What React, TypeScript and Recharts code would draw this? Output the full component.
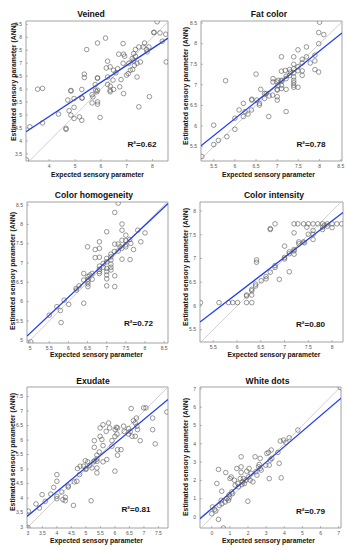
import React from 'react';
import { ComposedChart, Scatter, XAxis, YAxis, ReferenceLine, ReferenceArea } from 'recharts';

type P = [number, number];

const titles = ['Veined', 'Fat color', 'Color homogeneity', 'Color intensity', 'Exudate', 'White dots'];
const r2Labels = ['R²=0.62', 'R²=0.78', 'R²=0.72', 'R²=0.80', 'R²=0.81', 'R²=0.79'];
const xLabel = 'Expected sensory parameter';
const yLabel = 'Estimated sensory parameter (ANN)';

const veined: P[] = [
  [3.12, 3.27], [3.25, 4.55], [3.55, 6.0], [3.74, 6.03], [3.74, 4.7], [4.36, 5.04], [4.65, 4.49], [4.65, 4.45],
  [4.72, 5.58], [4.84, 5.93], [4.84, 5.95], [4.77, 5.17], [4.84, 5.0], [4.96, 5.3], [4.96, 5.64], [4.96, 4.87],
  [5.17, 4.93], [5.26, 4.8], [5.26, 5.99], [5.27, 5.65], [5.27, 5.67], [5.36, 6.58], [5.36, 6.45], [5.45, 7.53],
  [5.66, 5.47], [5.66, 5.79], [5.69, 5.7], [5.79, 5.96], [5.84, 5.9], [5.87, 7.78], [5.87, 6.44], [5.87, 6.42],
  [5.87, 5.96], [5.87, 5.51], [5.87, 5.42], [5.97, 4.91], [5.78, 6.18], [6.18, 7.97], [6.26, 7.08], [6.21, 6.82],
  [6.26, 6.47], [6.26, 6.18], [6.36, 6.86], [6.36, 6.12], [6.36, 5.96], [6.36, 5.9], [6.49, 6.73], [6.49, 5.99],
  [6.47, 6.35], [6.58, 6.63], [6.65, 6.79], [6.69, 7.35], [6.73, 6.09], [6.78, 6.37], [6.86, 7.0], [6.86, 7.76],
  [6.88, 7.35], [6.88, 5.83], [6.92, 7.27], [6.99, 6.54], [7.06, 6.6], [7.08, 7.0], [7.14, 6.73], [7.21, 7.18],
  [7.23, 6.76], [7.27, 7.37], [7.27, 7.09], [7.3, 6.92], [7.34, 7.53], [7.34, 7.27], [7.4, 7.0], [7.4, 6.47],
  [7.47, 5.32], [7.47, 7.63], [7.53, 7.05], [7.64, 7.63], [7.69, 7.78], [7.77, 7.53], [7.79, 7.44], [7.86, 7.63],
  [7.88, 5.71], [8.05, 8.18], [8.06, 8.2], [8.18, 8.6], [8.29, 8.17], [8.38, 7.85], [8.51, 8.12], [8.53, 7.05],
];

const fatColor: P[] = [
  [5.22, 5.26], [5.5, 6.02], [5.5, 5.55], [5.61, 5.65], [5.78, 7.1], [5.81, 5.74], [6.0, 6.19], [6.0, 5.92],
  [6.1, 6.39], [6.2, 6.55], [6.2, 6.23], [6.24, 6.35], [6.31, 6.29], [6.39, 6.39], [6.4, 6.63], [6.4, 6.65],
  [6.5, 7.26], [6.52, 6.63], [6.58, 6.55], [6.58, 6.51], [6.61, 6.89], [6.7, 6.79], [6.7, 6.67], [6.74, 6.79],
  [6.8, 6.23], [6.81, 6.73], [6.89, 6.75], [6.9, 7.15], [6.9, 7.07], [6.99, 7.07], [7.0, 6.89], [7.0, 6.87],
  [7.0, 6.63], [7.0, 6.71], [7.02, 6.99], [7.02, 7.11], [7.1, 7.68], [7.1, 7.33], [7.1, 7.11], [7.1, 6.99],
  [7.1, 6.91], [7.11, 7.09], [7.19, 7.35], [7.21, 7.21], [7.21, 7.15], [7.21, 6.89], [7.21, 6.35], [7.29, 7.37],
  [7.29, 7.23], [7.31, 7.31], [7.39, 7.68], [7.39, 7.5], [7.39, 7.39], [7.39, 7.29], [7.39, 7.19], [7.39, 7.11],
  [7.39, 7.05], [7.39, 6.99], [7.39, 6.94], [7.49, 7.85], [7.49, 7.44], [7.49, 7.34], [7.49, 6.94], [7.59, 7.62],
  [7.59, 7.53], [7.59, 7.34], [7.59, 7.23], [7.69, 7.92], [7.69, 7.68], [7.78, 7.53], [7.89, 7.72], [7.89, 7.58],
  [7.89, 7.37], [7.98, 7.31], [7.98, 8.0], [7.98, 8.27], [8.1, 8.22], [8.0, 8.52],
];

const colorHomogeneity: P[] = [
  [5.02, 4.96], [5.5, 5.65], [5.7, 5.87], [5.79, 5.77], [5.81, 5.46], [5.89, 6.04], [6.01, 5.93], [6.2, 6.34],
  [6.21, 6.3], [6.28, 6.41], [6.4, 5.96], [6.4, 6.56], [6.4, 6.73], [6.5, 7.42], [6.51, 6.65], [6.51, 6.58],
  [6.51, 6.52], [6.51, 6.46], [6.51, 6.39], [6.56, 6.69], [6.62, 6.73], [6.62, 6.58], [6.7, 7.35], [6.7, 7.14],
  [6.81, 7.55], [6.81, 7.38], [6.81, 7.15], [6.81, 6.92], [6.81, 6.84], [6.81, 6.78], [6.81, 6.73], [6.91, 6.99],
  [6.91, 6.89], [7.0, 7.81], [7.0, 7.12], [7.0, 7.03], [7.0, 6.86], [7.0, 6.78], [7.0, 6.69], [7.0, 6.59],
  [7.0, 6.41], [7.11, 7.23], [7.11, 7.16], [7.11, 7.08], [7.11, 6.97], [7.11, 6.89], [7.11, 6.82], [7.21, 8.31],
  [7.21, 7.49], [7.21, 6.67], [7.21, 6.39], [7.3, 8.55], [7.3, 7.49], [7.3, 7.31], [7.35, 7.42], [7.39, 7.38],
  [7.4, 8.01], [7.4, 7.85], [7.4, 7.59], [7.4, 7.1], [7.5, 7.58], [7.5, 7.47], [7.5, 7.42], [7.6, 7.61],
  [7.61, 7.09], [7.63, 7.51], [7.7, 7.35], [7.81, 7.85], [7.89, 7.55], [8.0, 7.78], [7.5, 7.72], [7.2, 7.3],
];

const colorIntensity: P[] = [
  [5.23, 6.07], [5.62, 6.07], [5.82, 6.07], [5.91, 6.07], [6.01, 6.07], [6.2, 6.07], [6.31, 6.07], [6.2, 6.23],
  [6.2, 6.21], [6.31, 6.23], [6.31, 6.32], [6.31, 6.35], [6.39, 6.42], [6.39, 6.46], [6.41, 6.97], [6.41, 6.92],
  [6.51, 6.53], [6.61, 6.57], [6.61, 6.62], [6.7, 6.71], [6.7, 7.63], [6.7, 7.61], [6.8, 7.73], [6.8, 6.81],
  [6.8, 6.85], [6.89, 6.56], [7.0, 7.02], [7.0, 6.99], [7.0, 7.26], [7.1, 7.14], [7.1, 7.1], [7.1, 6.72],
  [7.2, 7.73], [7.2, 7.54], [7.2, 7.19], [7.2, 7.09], [7.28, 7.73], [7.3, 7.31], [7.3, 7.35], [7.4, 7.35],
  [7.4, 7.73], [7.47, 7.66], [7.5, 7.73], [7.5, 7.51], [7.6, 7.73], [7.6, 7.59], [7.6, 7.51], [7.6, 7.4],
  [7.7, 7.73], [7.8, 7.73], [7.8, 7.66], [7.8, 7.61], [7.84, 7.7], [7.9, 7.73], [7.9, 7.68], [8.0, 7.73],
  [8.0, 7.65], [8.1, 7.73], [8.2, 7.73], [7.2, 7.16], [7.42, 7.33],
];

const exudate: P[] = [
  [3.0, 2.99], [3.02, 3.55], [3.28, 3.8], [3.4, 3.66], [3.49, 4.12], [3.6, 3.89], [3.79, 4.14], [3.89, 4.37],
  [4.0, 4.81], [4.0, 4.58], [4.0, 4.06], [4.0, 3.98], [4.17, 4.21], [4.21, 3.95], [4.29, 4.03], [4.29, 3.91],
  [4.39, 4.42], [4.39, 4.38], [4.57, 3.75], [4.6, 4.56], [4.69, 4.58], [4.71, 5.02], [4.78, 4.81], [4.8, 5.1],
  [4.92, 5.1], [4.98, 5.29], [5.0, 5.02], [5.0, 4.99], [5.06, 5.25], [5.13, 5.13], [5.18, 3.91], [5.21, 5.04],
  [5.26, 5.25], [5.29, 5.98], [5.29, 5.75], [5.3, 5.29], [5.38, 5.48], [5.38, 5.35], [5.38, 5.27], [5.38, 5.04],
  [5.38, 4.87], [5.46, 5.59], [5.49, 6.42], [5.49, 6.13], [5.55, 6.02], [5.59, 6.53], [5.59, 5.81], [5.59, 5.25],
  [5.7, 6.3], [5.72, 5.33], [5.78, 6.59], [5.82, 6.42], [5.9, 5.98], [5.9, 5.79], [6.0, 6.13], [6.0, 4.93],
  [6.01, 6.36], [6.05, 6.44], [6.07, 6.21], [6.09, 5.67], [6.09, 5.48], [6.09, 6.42], [6.21, 5.67], [6.3, 6.48],
  [6.32, 6.3], [6.47, 6.4], [6.47, 6.21], [6.53, 6.3], [6.56, 7.09], [6.59, 6.13], [6.64, 6.67], [6.7, 6.59],
  [6.7, 6.13], [6.74, 6.76], [6.76, 6.48], [6.78, 6.36], [6.87, 5.98], [6.99, 7.11], [7.07, 7.11], [7.3, 6.76],
  [7.3, 6.36], [7.39, 5.87], [7.79, 6.97],
];

const whiteDots: P[] = [
  [0.0, 0.18], [0.04, 0.55], [0.15, 0.42], [0.22, 0.33], [0.28, 1.83], [0.37, 2.6], [0.37, -0.13], [0.41, 0.64],
  [0.52, 0.91], [0.55, 1.41], [0.55, 0.73], [0.64, -0.6], [0.74, 0.82], [0.77, 2.43], [0.83, 1.01], [0.92, 0.91],
  [0.96, 1.22], [0.96, 1.04], [1.01, 2.1], [1.07, 2.19], [1.1, 1.37], [1.14, 1.28], [1.25, 2.01], [1.29, 1.74],
  [1.38, 2.65], [1.44, 1.83], [1.47, 1.65], [1.57, 2.1], [1.62, 3.29], [1.62, 2.74], [1.62, 2.43], [1.66, 1.77],
  [1.69, 1.92], [1.75, 2.1], [1.8, 1.83], [1.88, 2.01], [1.93, 2.5], [1.99, 0.86], [2.03, 2.19], [2.06, 2.65],
  [2.12, 2.01], [2.17, 2.38], [2.27, 1.92], [2.39, 3.29], [2.43, 2.47], [2.49, 2.29], [2.58, 2.74], [2.62, 2.87],
  [2.67, 3.2], [2.67, 2.65], [2.73, 2.56], [2.98, 2.83], [3.04, 3.47], [3.13, 3.53], [3.17, 2.83], [3.17, 2.1],
  [3.22, 3.11], [3.28, 3.66], [3.31, 3.2], [3.65, 3.53], [3.72, 2.93], [3.78, 4.15], [3.83, 2.14], [3.96, 4.2],
  [4.09, 4.08], [4.27, 4.33], [4.75, 4.75], [7.09, 7.07],
];

const seriesPoints: P[][] = [veined, fatColor, colorHomogeneity, colorIntensity, exudate, whiteDots];

const fitLines: [P, P][] = [
  [[3.1, 4.36], [8.6, 7.97]],
  [[5.2, 5.52], [8.53, 8.26]],
  [[4.92, 5.11], [8.6, 8.54]],
  [[5.22, 5.66], [8.23, 7.97]],
  [[2.97, 3.37], [7.83, 7.4]],
  [[-0.65, -0.09], [7.13, 6.49]],
];

const xDomains: P[] = [[3.1, 8.6], [5.2, 8.53], [4.92, 8.6], [5.22, 8.23], [2.97, 7.83], [-0.65, 7.13]];
const yDomains: P[] = [[3.23, 8.63], [5.15, 8.55], [4.93, 8.58], [5.24, 8.19], [2.97, 7.83], [-0.6, 7.1]];

const xTicks: number[][] = [
  [4, 5, 6, 7, 8],
  [5.5, 6, 6.5, 7, 7.5, 8, 8.5],
  [5, 5.5, 6, 6.5, 7, 7.5, 8, 8.5],
  [5.5, 6, 6.5, 7, 7.5, 8],
  [3, 3.5, 4, 4.5, 5, 5.5, 6, 6.5, 7, 7.5],
  [0, 1, 2, 3, 4, 5, 6, 7],
];
const yTicks: number[][] = [
  [3.5, 4, 4.5, 5, 5.5, 6, 6.5, 7, 7.5, 8, 8.5],
  [5.5, 6, 6.5, 7, 7.5, 8, 8.5],
  [5, 5.5, 6, 6.5, 7, 7.5, 8, 8.5],
  [5.5, 6, 6.5, 7, 7.5, 8],
  [3, 3.5, 4, 4.5, 5, 5.5, 6, 6.5, 7, 7.5],
  [0, 1, 2, 3, 4, 5, 6, 7],
];

// layout: plot box [left, top, width, height], and text centres
const layout = [
  { plot: [26, 21, 142, 140], title: [91, 13.5], xl: [97.5, 174.5], yl: [14, 82], r2: [142, 145] },
  { plot: [201, 21, 141, 140], title: [269, 13.5], xl: [268.5, 174.5], yl: [186, 86], r2: [311, 145] },
  { plot: [27, 202, 141, 141], title: [94, 195], xl: [96.5, 355], yl: [13, 271], r2: [138.5, 324] },
  { plot: [200, 202, 143, 140], title: [274, 195], xl: [274, 355], yl: [185.5, 267], r2: [310.5, 325] },
  { plot: [27, 387, 141, 141], title: [93, 381], xl: [96.5, 540.5], yl: [13, 452], r2: [136, 510] },
  { plot: [200, 387, 141, 141], title: [267.5, 381], xl: [268.5, 541], yl: [186, 457], r2: [310.5, 512] },
];

const FONT = "'Liberation Sans', Arial, Helvetica, sans-serif";
const ML = 22;
const MT = 4;
const MR = 4;
const MB = 11;
const FRAME = '#8a8a8a';

const Circle = (props: any) => {
  const { cx, cy } = props;
  if (cx == null || cy == null) return null;
  return <circle cx={cx} cy={cy} r={2.3} fill="none" stroke="#555" strokeWidth={0.6} />;
};

const centered = (x: number, y: number, extra: React.CSSProperties = {}): React.CSSProperties => ({
  position: 'absolute',
  left: x,
  top: y,
  transform: 'translate(-50%, -50%)',
  whiteSpace: 'nowrap',
  lineHeight: 1,
  fontFamily: FONT,
  fontWeight: 'bold',
  color: '#111',
  ...extra,
});

function Panel({ i }: { i: number }) {
  const L = layout[i];
  const [pl, pt, pw, ph] = L.plot;
  const xd = xDomains[i];
  const yd = yDomains[i];
  const lo = Math.min(xd[0], yd[0]);
  const hi = Math.max(xd[1], yd[1]);
  const data = seriesPoints[i].map(([x, y]) => ({ x, y }));
  const fit = fitLines[i];
  const tickStyle = { fontSize: 5, fill: '#555', fontFamily: FONT };
  return (
    <>
      <div style={{ position: 'absolute', left: pl - ML, top: pt - MT }}>
        <ComposedChart
          width={pw + ML + MR}
          height={ph + MT + MB}
          margin={{ top: MT, right: MR, left: 0, bottom: 0 }}
        >
          <XAxis
            type="number"
            dataKey="x"
            domain={xd}
            ticks={xTicks[i]}
            interval={0}
            allowDataOverflow
            height={MB}
            tick={tickStyle}
            tickLine={{ stroke: FRAME, strokeWidth: 0.6 }}
            tickSize={-2}
            tickMargin={5}
            axisLine={false}
          />
          <YAxis
            type="number"
            dataKey="y"
            domain={yd}
            ticks={yTicks[i]}
            interval={0}
            allowDataOverflow
            width={ML}
            tick={tickStyle}
            tickLine={{ stroke: FRAME, strokeWidth: 0.6 }}
            tickSize={-2}
            tickMargin={6}
            axisLine={false}
          />
          <ReferenceLine
            segment={[{ x: lo, y: lo }, { x: hi, y: hi }]}
            stroke="#c4c4c4"
            strokeWidth={0.8}
            ifOverflow="hidden"
          />
          <Scatter data={data} isAnimationActive={false} shape={<Circle />} />
          <ReferenceLine
            segment={[{ x: fit[0][0], y: fit[0][1] }, { x: fit[1][0], y: fit[1][1] }]}
            stroke="#1f3df5"
            strokeWidth={1.3}
            ifOverflow="hidden"
          />
          <ReferenceArea
            x1={xd[0]}
            x2={xd[1]}
            y1={yd[0]}
            y2={yd[1]}
            fill="none"
            fillOpacity={0}
            stroke={FRAME}
            strokeWidth={0.8}
            ifOverflow="visible"
          />
        </ComposedChart>
      </div>
      <div style={centered(L.title[0], L.title[1], { fontSize: 8.6 })}>{titles[i]}</div>
      <div style={centered(L.xl[0], L.xl[1], { fontSize: 6.8 })}>{xLabel}</div>
      <div style={centered(L.yl[0], L.yl[1], { fontSize: 6.9, transform: 'translate(-50%, -50%) rotate(-90deg)' })}>
        {yLabel}
      </div>
      <div style={centered(L.r2[0], L.r2[1], { fontSize: 8.1 })}>{r2Labels[i]}</div>
    </>
  );
}

export default function App() {
  return (
    <div
      style={{
        position: 'absolute',
        left: 0,
        top: 0,
        width: 347,
        height: 550,
        background: '#fff',
        overflow: 'hidden',
        fontFamily: FONT,
      }}
    >
      {[0, 1, 2, 3, 4, 5].map((i) => (
        <Panel key={i} i={i} />
      ))}
    </div>
  );
}
